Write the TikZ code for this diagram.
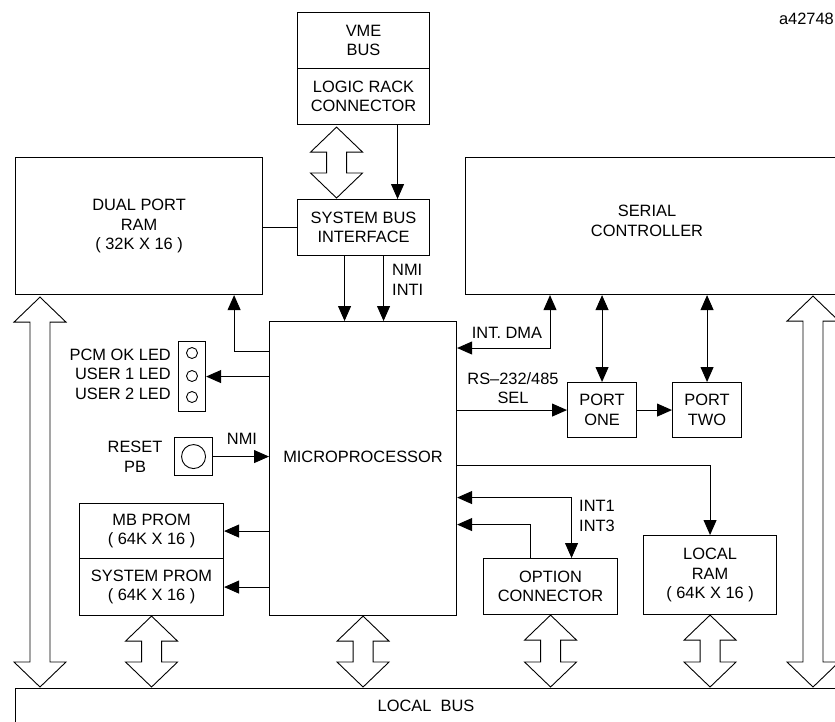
\documentclass[tikz,border=0pt]{standalone}
\usepackage{fontspec}
\setmainfont{Liberation Sans}
\usetikzlibrary{arrows.meta,calc}

\tikzset{
  box/.style={draw, line width=1.1pt, inner sep=0pt, align=center, anchor=north west},
  lbl/.style={inner sep=0pt, align=center},
  sig/.style={line width=0.9pt},
  bus/.style={line width=0.9pt, fill=white},
  >={Triangle[length=15pt,width=13pt]}
}

% hollow double arrow from top tip #1 to bottom tip #2
\newcommand{\busarrow}[2]{%
  \draw[bus] let \p1=#1, \p2=#2 in
    (\x1,\y1) -- (\x1+26pt,\y1-25pt) -- (\x1+10pt,\y1-25pt) -- (\x1+10pt,\y2+25pt)
    -- (\x1+26pt,\y2+25pt) -- (\x1,\y2) -- (\x1-26pt,\y2+25pt) -- (\x1-10pt,\y2+25pt)
    -- (\x1-10pt,\y1-25pt) -- (\x1-26pt,\y1-25pt) -- cycle;}

\begin{document}
\begin{tikzpicture}[x=1pt, y=-1pt, font=\fontsize{16.4}{19.5}\selectfont]
    \useasboundingbox (0,0) rectangle (835,721);
    \clip (0,0) rectangle (835,721);

    % VME bus and system bus interface
    \node[box, minimum width=132pt, minimum height=56pt] (vme) at (297,12) {VME\\BUS};
    \node[box, minimum width=132pt, minimum height=56pt] (lrc) at (297,68) {LOGIC RACK\\CONNECTOR};
    \node[box, minimum width=132pt, minimum height=56pt] (sbi) at (297,199) {SYSTEM BUS\\INTERFACE};

    % Memories, controllers and processor
    \node[box, minimum width=247pt, minimum height=137pt] (dpram) at (15,157) {DUAL PORT\\RAM\\( 32K X 16 )};
    \node[box, minimum width=400pt, minimum height=137pt] (serial) at (465,157) {};
    \node[lbl] at (647,221) {SERIAL\\CONTROLLER};
    \node[box, minimum width=187pt, minimum height=294pt] (micro) at (269,321) {};
    \node[lbl] at (363,457) {MICROPROCESSOR};
    \node[box, minimum width=144pt, minimum height=55pt] (mbprom) at (79,503) {MB PROM\\( 64K X 16 )};
    \node[box, minimum width=144pt, minimum height=57pt] (sysprom) at (79,558) {SYSTEM PROM\\( 64K X 16 )};
    \node[box, minimum width=69pt, minimum height=55pt] (portone) at (567,382) {PORT\\ONE};
    \node[box, minimum width=69pt, minimum height=55pt] (porttwo) at (672,382) {PORT\\TWO};
    \node[box, minimum width=134pt, minimum height=56pt] (option) at (483,558) {OPTION\\CONNECTOR};
    \node[box, minimum width=133pt, minimum height=79pt] (localram) at (643,535) {LOCAL\\RAM\\( 64K X 16 )};
    \node[box, minimum width=860pt, minimum height=60pt] (localbus) at (15,688) {};
    \node[lbl] at (426,706) {LOCAL\ \ BUS};

    % LEDs and reset button
    \node[box, minimum width=27pt, minimum height=70pt] (led) at (178,341) {};
    \foreach \y in {353,376,397} {
        \draw[sig] (192,\y) circle (5.5pt);
    }
    \node[lbl, anchor=east, align=right] at (171,374) {PCM OK LED\\USER 1 LED\\USER 2 LED};
    \node[box, minimum width=38pt, minimum height=38pt] (reset) at (174,437) {};
    \draw[sig] (reset.center) circle (12pt);
    \node[lbl] at (135,457) {RESET\\PB};

    % Labels
    \node[lbl] at (242,439) {NMI};
    \node[lbl, anchor=west, align=left] at (392,280) {NMI\\INTI};
    \node[lbl] at (507,333) {INT. DMA};
    \node[lbl] at (513,388) {RS–232/485\\SEL};
    \node[lbl, anchor=west, align=left] at (579,516) {INT1\\INT3};
    \node[lbl, anchor=east] at (834,19) {a42748};

    % System bus side
    \busarrow{([xshift=-27pt,yshift=-2pt]lrc.south)}{([xshift=-27pt,yshift=1pt]sbi.north)}
    \draw[sig,->] ([xshift=34pt]lrc.south) -- ([xshift=34pt]sbi.north);
    \draw[sig] (sbi.west) -- (sbi.west -| dpram.east);
    \draw[sig,->] ([xshift=-19pt]sbi.south) -- ([xshift=-19pt]sbi.south |- micro.north);
    \draw[sig,->] ([xshift=20pt]sbi.south) -- ([xshift=20pt]sbi.south |- micro.north);

    % Left of the processor
    \draw[sig,->] ([yshift=-30pt]micro.north west) -| ([xshift=-29pt]dpram.south east);
    \draw[sig,->] (micro.west |- led.east) -- (led.east);
    \draw[sig,->] (reset.east) -- (reset.east -| micro.west);
    \draw[sig,->] (micro.west |- mbprom.east) -- (mbprom.east);
    \draw[sig,->] (micro.west |- sysprom.east) -- (sysprom.east);

    % Right of the processor
    \draw[sig,<->] ([xshift=85pt]serial.south west) |- ([yshift=-27pt]micro.north east);
    \draw[sig,<->] (portone.north |- serial.south) -- (portone.north);
    \draw[sig,<->] (porttwo.north |- serial.south) -- (porttwo.north);
    \draw[sig,->] (micro.east |- portone.west) -- (portone.west);
    \draw[sig,->] (portone.east) -- (porttwo.west);
    \draw[sig,->] ([yshift=3pt]micro.east) -| (localram.north);
    \draw[sig,<->] ([yshift=-29pt]micro.east) -| ([xshift=21pt]option.north);
    \draw[sig,->] ([xshift=-20pt]option.north) |- ([yshift=-56pt]micro.east);

    % Local bus
    \busarrow{([xshift=25pt,yshift=-2pt]dpram.south west)}{([xshift=25pt,yshift=1pt]localbus.north west)}
    \busarrow{([xshift=348pt,yshift=-1pt]serial.south west)}{([xshift=798pt,yshift=1pt]localbus.north west)}
    \foreach \blk in {sysprom,micro,option,localram} {
        \busarrow{(\blk.south)}{([yshift=1pt]\blk.south |- localbus.north)}
    }
\end{tikzpicture}
\end{document}
